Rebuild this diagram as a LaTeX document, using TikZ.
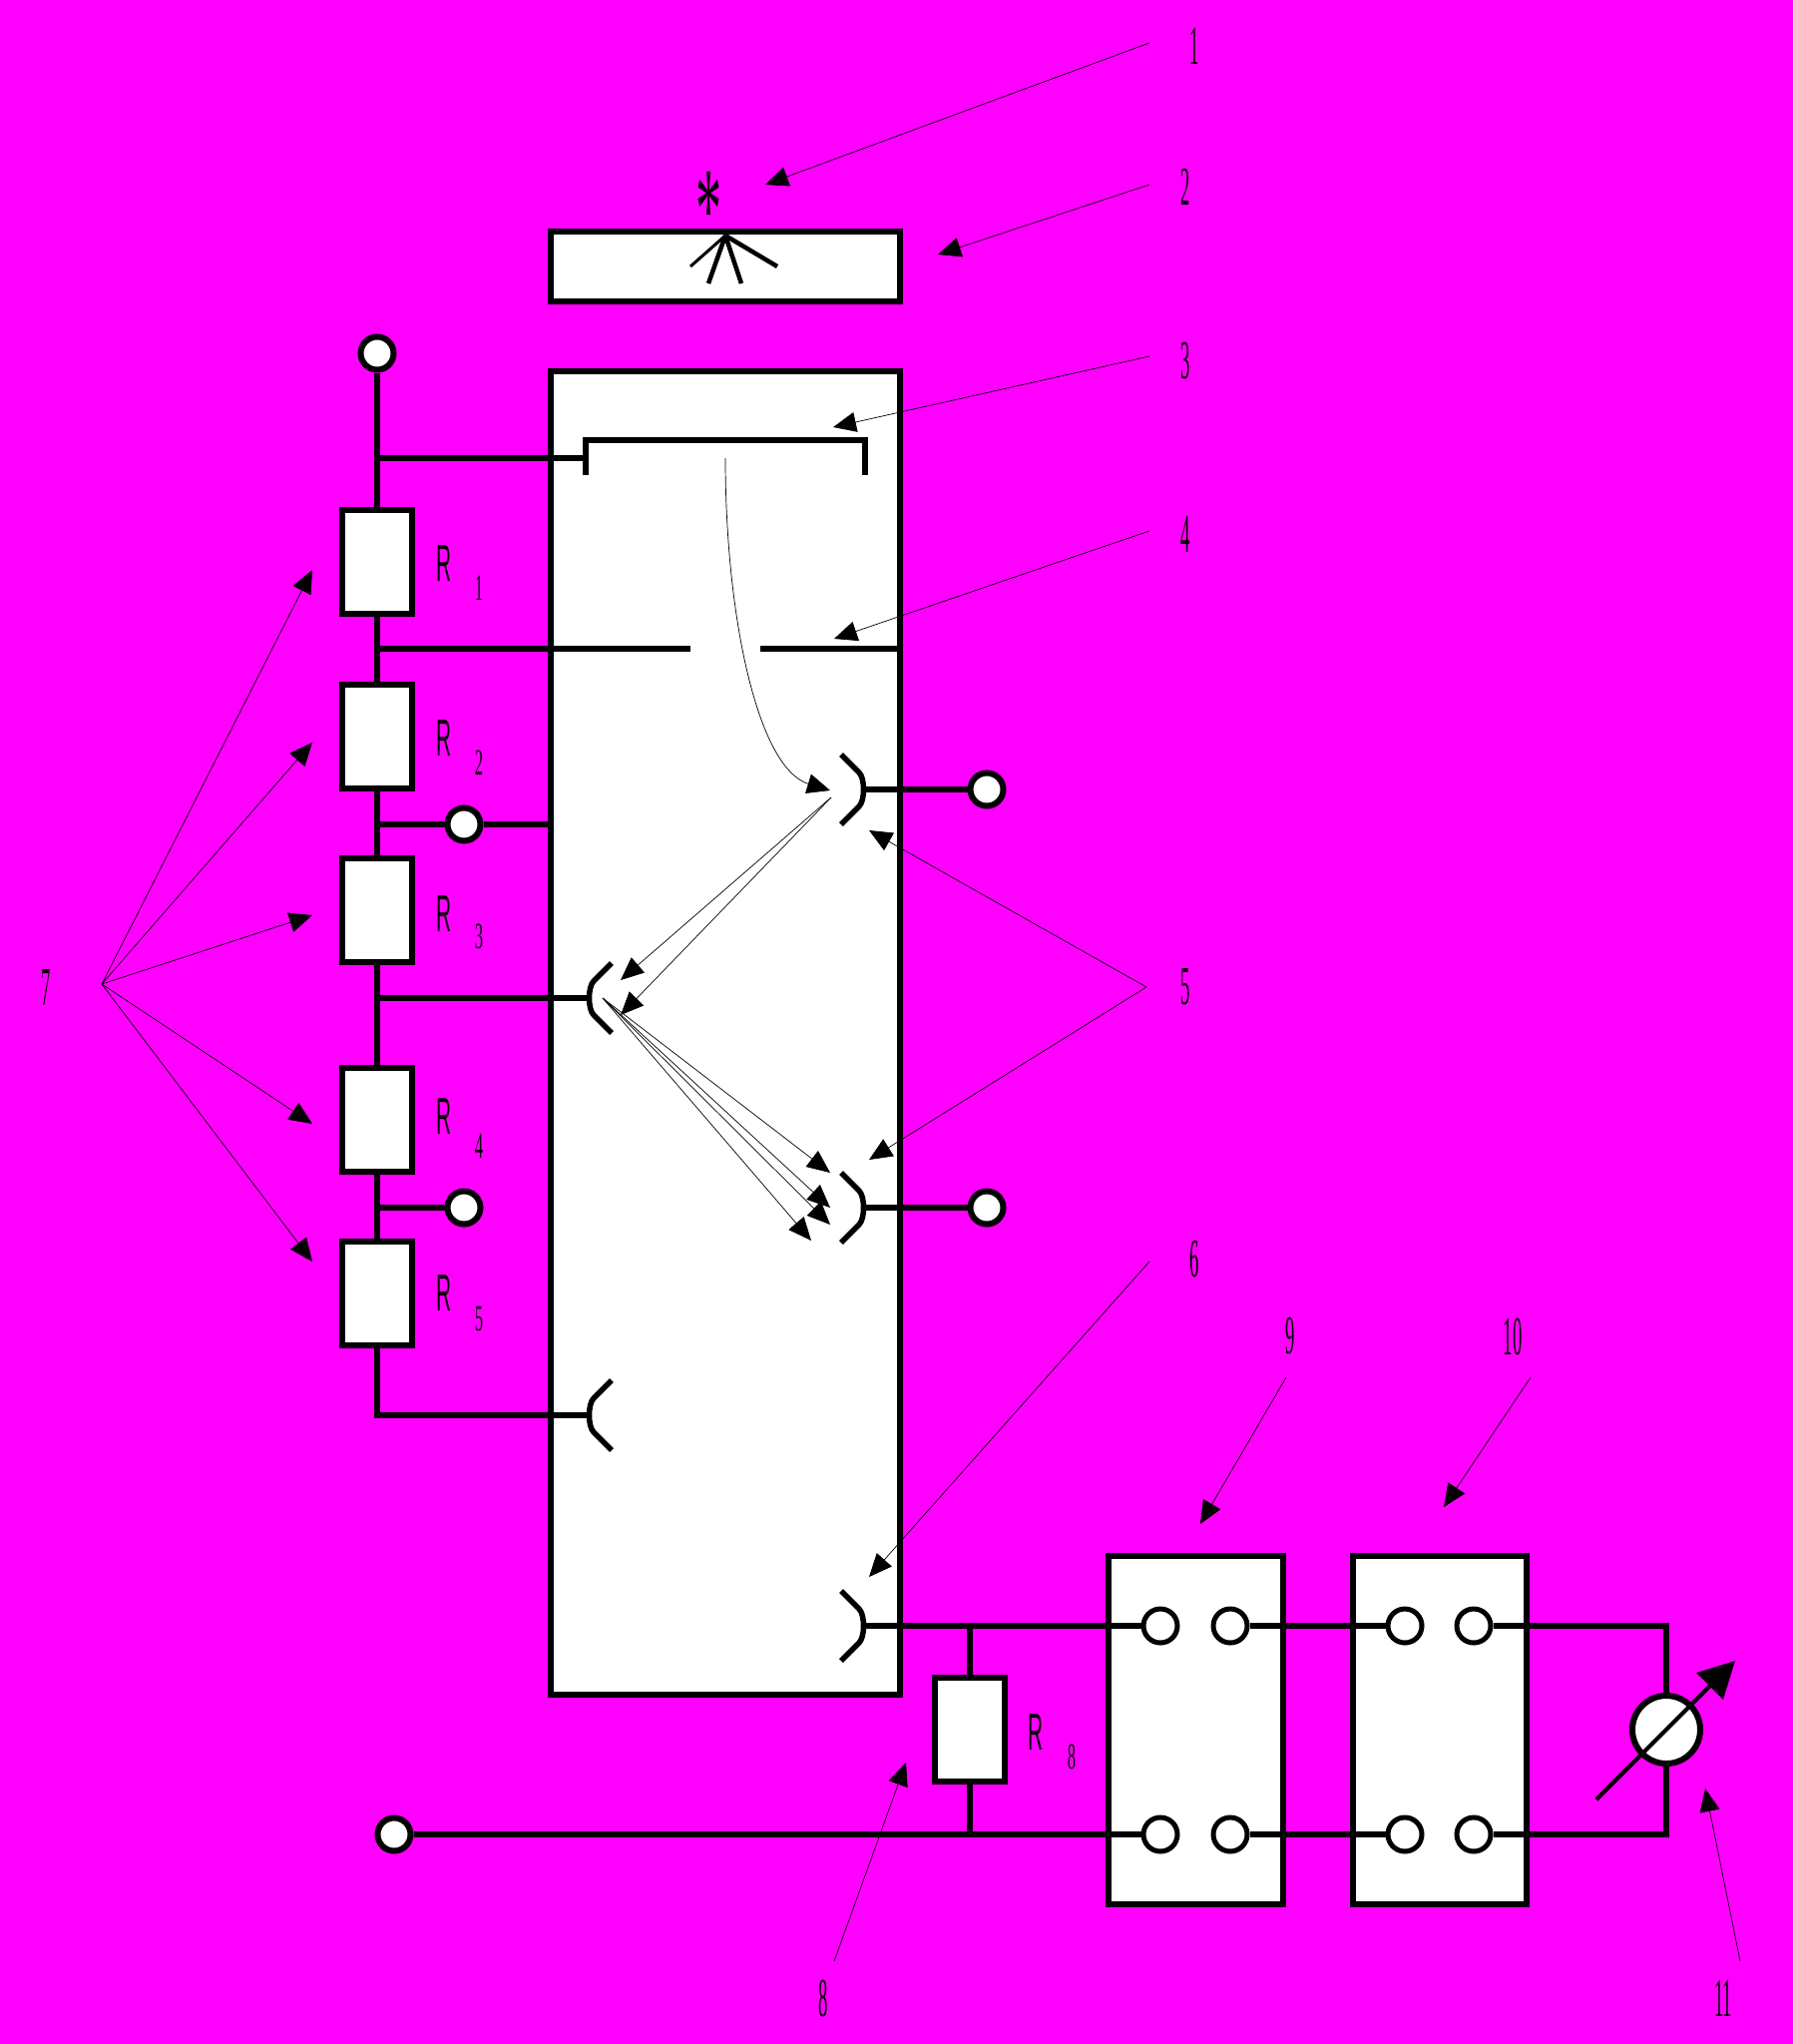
\documentclass[tikz,border=0pt]{standalone}
\usepackage{fontspec}
\setmainfont{Liberation Serif}
\setsansfont{Liberation Sans}
\usetikzlibrary{arrows.meta, calc}
\definecolor{bgmag}{HTML}{FF00FF}
\tikzset{
	wire/.style={line width=5.5pt},
	box/.style={rectangle, draw, fill=white, line width=5.5pt, inner sep=0pt},
	res/.style={box, minimum width=70pt, minimum height=104pt},
	term/.style={circle, draw, fill=white, line width=6pt, inner sep=0pt, minimum size=33pt},
	port/.style={term, line width=5pt, minimum size=34pt},
	pointer/.style={-{Triangle[length=23pt,width=20pt]}, line width=0.7pt},
	numtxt/.style={font=\fontsize{55}{60}\selectfont, xscale=0.34, transform shape, inner sep=0pt},
	rtxt/.style={font=\sffamily\fontsize{52}{60}\selectfont, xscale=0.4, transform shape, inner sep=0pt},
	subtxt/.style={font=\fontsize{37}{40}\selectfont, xscale=0.45, transform shape, inner sep=0pt}
}

\begin{document}
\begin{tikzpicture}[x=1pt, y=-1pt]
		\useasboundingbox (0,0) rectangle (1797,2048);
		\fill[bgmag] (0,0) rectangle (1797,2048);

		\node[box, minimum width=350pt, minimum height=70pt] (window) at (727,267) {};
		\node[box, minimum width=350pt, minimum height=1326pt] (tube) at (727,1035) {};
		\node[box, minimum width=175pt, minimum height=349pt] (amp) at (1198.5,1733.5) {};
		\node[box, minimum width=174pt, minimum height=349pt] (rec) at (1443,1733.5) {};

		\node[font=\fontsize{118}{120}\selectfont, xscale=0.44, transform shape, inner sep=0pt, anchor=north] (star) at (710,172) {*};

		\coordinate (ray) at (727,236);
		\foreach \x / \y / \w in {692/267/3, 710/284/4.5, 743/284/4.5, 779/267/4.5}
		\draw[line width=\w pt] (ray) -- (\x,\y);

		\coordinate (catl) at (587,441);
		\coordinate (catr) at (867,441);
		\coordinate (tapc) at (378,459);
		\coordinate (tapf) at (378,650);
		\coordinate (tapm) at (378,826);
		\coordinate (tapd) at (378,1000);
		\coordinate (tapo) at (378,1210);
		\coordinate (foca) at (692,650);
		\coordinate (focb) at (762,650);
		\coordinate (focc) at (902,650);

		\foreach \n / \x / \y in {a/867/791, b/589/1000, c/867/1210, d/589/1418, e/867/1629}
		\coordinate (dy\n) at (\x,\y);
		\foreach \n / \s in {a/1, b/-1, c/1, d/-1, e/1}
		\draw[wire, shift={(dy\n)}, xscale=\s] (-24,-35) -- (-6,-17) .. controls (0,-11) and (0,11) .. (-6,17) -- (-24,35);

		\foreach \n / \y / \ry in {1/563/565, 2/738/740, 3/912/916, 4/1122/1119, 5/1296/1296} {
		\node[res] (r\n) at (378,\y) {};
		\node[rtxt] (rl\n) at (445,\ry) {R};
		\node[subtxt] (rs\n) at (480,\y+26) {\n};
		}
		\node[res] (r8) at (972,1733) {};
		\node[rtxt] (rl8) at (1038,1736) {R};
		\node[subtxt] (rs8) at (1074,1760) {8};

		\node[term] (t1) at (378,354) {};
		\node[term] (t2) at (465,826) {};
		\node[term] (t3) at (465,1210) {};
		\node[term] (t4) at (989,791) {};
		\node[term] (t5) at (989,1210) {};
		\node[term] (t6) at (395,1838) {};

		\foreach \n / \x in {1/1163, 2/1233, 3/1408, 4/1477} {
		\node[port] (pu\n) at (\x,1629) {};
		\node[port] (pd\n) at (\x,1838) {};
		}
		\node[term, minimum size=68pt] (meter) at (1670,1733) {};

		\coordinate (ju) at (972,1629);
		\coordinate (jd) at (972,1838);

		\draw[wire] (t1) -- (r1);
		\draw[wire] (r1) -- (r2);
		\draw[wire] (r2) -- (r3);
		\draw[wire] (r3) -- (r4);
		\draw[wire] (r4) -- (r5);
		\draw[wire] (r5) |- (dyd);
		\draw[wire] (tapc) -- ($(catl)+(0,18)$);
		\draw[wire] ($(catl)+(0,35)$) -- (catl) -- (catr) -- ($(catr)+(0,35)$);
		\draw[wire] (tapf) -- (foca);
		\draw[wire] (focb) -- (focc);
		\draw[wire] (tapm) -- (t2) -- (tube.west |- t2);
		\draw[wire] (tapd) -- (dyb);
		\draw[wire] (tapo) -- (t3);
		\draw[wire] (dya) -- (t4);
		\draw[wire] (dyc) -- (t5);
		\draw[wire] (dye) -- (pu1);
		\draw[wire] (t6) -- (pd1);
		\draw[wire] (pu2) -- (pu3);
		\draw[wire] (pd2) -- (pd3);
		\draw[wire] (ju) -- (r8);
		\draw[wire] (r8) -- (jd);
		\draw[wire] (pu4) -| (meter);
		\draw[wire] (pd4) -| (meter);

		\coordinate (ndl) at (1600,1803);
		\coordinate (ndt) at (1739,1664);
		\draw[line width=4pt, -{Triangle[length=36pt,width=37pt]}] (ndl) -- (ndt);

		\coordinate (beam) at (727,459);
		\coordinate (hita) at (832,792);
		\draw[pointer] (beam) .. controls (727,620) and (760,770) .. (hita);

		\coordinate (srca) at (833,799);
		\coordinate (srcb) at (604,1000);
		\foreach \s / \x / \y in {srca/622/982, srca/622/1017, srcb/832/1175, srcb/832/1210, srcb/832/1227, srcb/813/1243}
		\draw[pointer] (\s) -- (\x,\y);

		\foreach \n / \sx / \sy / \tx / \ty / \lab / \lx / \ly in {
			1/1152/43/767/185/1/1197/46,
			2/1152/185/940/255/2/1188/187,
			3/1152/357/835/428/3/1188/362,
			4/1152/532/836/640/4/1188/535,
			5/1149/989/871/832/5/1188/989,
			6/1152/1264/871/1580/6/1197/1262,
			7/102/986/313/571/7/46/989,
			8/836/1965/908/1766/8/825/2002,
			9/1289/1380/1203/1527/9/1293/1339,
			10/1534/1380/1447/1510/10/1516/1339,
			11/1744/1965/1709/1792/11/1727/2002} {
		\coordinate (from\n) at (\sx,\sy);
		\coordinate (to\n) at (\tx,\ty);
		\draw[pointer] (from\n) -- (to\n);
		\node[numtxt] (lab\n) at (\lx,\ly) {\lab};
		}

		\coordinate (tof) at (871,1162);
		\draw[pointer] (from5) -- (tof);
		\foreach \m / \y in {a/744, b/917, c/1126, d/1264} {
		\coordinate (to\m) at (313,\y);
		\draw[pointer] (from7) -- (to\m);
		}
	\end{tikzpicture}
\end{document}
